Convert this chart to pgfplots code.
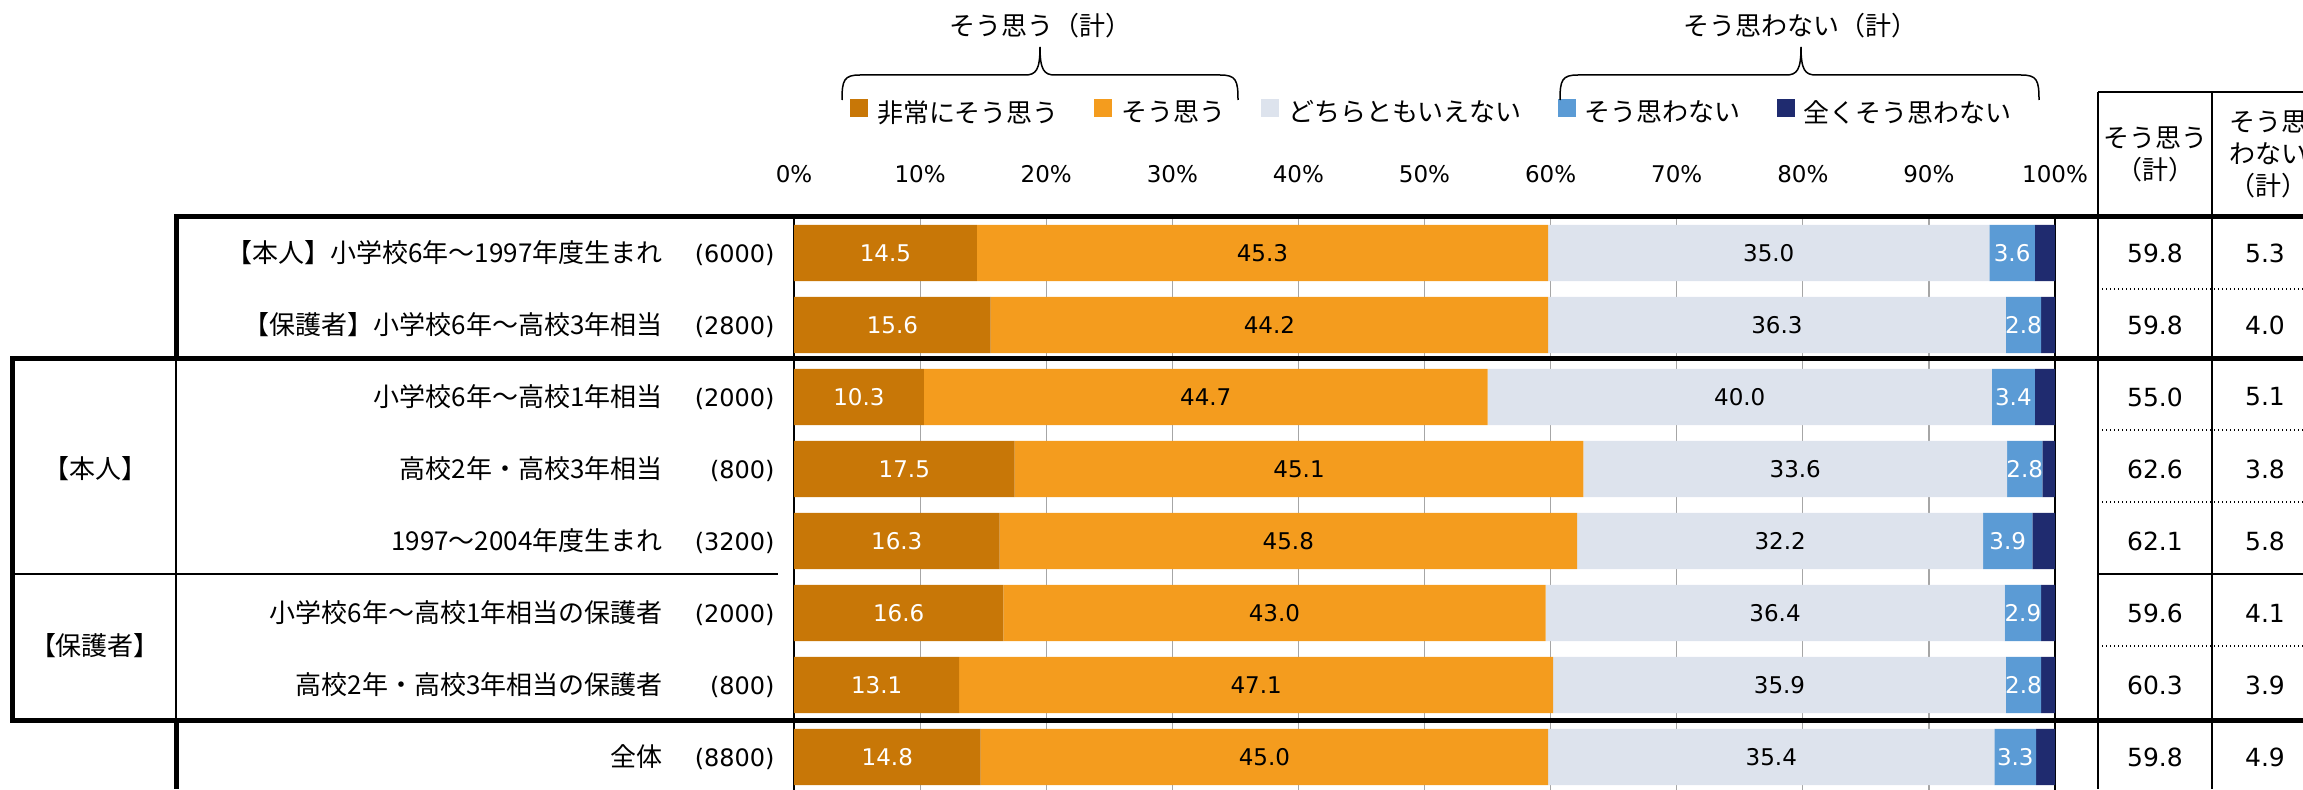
\documentclass[border=0pt]{standalone}
\usepackage{pgfplots}
\pgfplotsset{compat=1.18}
\usepackage{pgfplotstable}
\usepackage{fontspec}
\setmainfont{Noto Sans CJK JP}
\newfontfamily\dv{DejaVu Sans}
\definecolor{c1}{HTML}{C87707}
\definecolor{c2}{HTML}{F49C1E}
\definecolor{c3}{HTML}{DDE3ED}
\definecolor{c4}{HTML}{5B9BD5}
\definecolor{c5}{HTML}{1F2B6F}
\definecolor{gridgray}{HTML}{A6A6A6}
\newcommand\jf{\fontsize{13pt}{16pt}\selectfont}
\newcommand\nf{\dv\fontsize{11.5pt}{14pt}\selectfont}
\newcommand\tf{\dv\fontsize{12.5pt}{15pt}\selectfont}
\newcommand\rl[2]{\makebox[0pt][r]{#1}\makebox[56pt][r]{\dv\fontsize{12pt}{14pt}\selectfont #2}}

\pgfplotstableread{
y a b c d e p n
8 14.5 45.3 35.0 3.6 1.7 59.8 5.3
7 15.6 44.2 36.3 2.8 1.2 59.8 4.0
6 10.3 44.7 40.0 3.4 1.7 55.0 5.1
5 17.5 45.1 33.6 2.8 1.0 62.6 3.8
4 16.3 45.8 32.2 3.9 1.9 62.1 5.8
3 16.6 43.0 36.4 2.9 1.2 59.6 4.1
2 13.1 47.1 35.9 2.8 1.1 60.3 3.9
1 14.8 45.0 35.4 3.3 1.6 59.8 4.9
}\data

\pgfplotsset{lbl/.style={only marks, mark=text, text mark={}}}

\begin{document}
\begin{tikzpicture}[x=0.5pt,y=0.5pt,font=\jf]
\useasboundingbox (0,0) rectangle (2303,789);
\clip (0,0) rectangle (2303,789);
\begin{axis}[
  at={(397pt,286pt)}, anchor=north west,
  scale only axis, width=630.5pt, height=288pt,
  xmin=0, xmax=100, ymin=0.5, ymax=8.5,
  xbar stacked, bar width=0.78,
  /pgf/number format/assume math mode=true,
  xtick={0,10,...,100},
  xticklabel pos=right,
  xticklabel={\pgfmathprintnumber{\tick}\%},
  xticklabel style={anchor=base, yshift=17pt, inner sep=0pt, font=\nf},
  xtick style={draw=none}, ytick style={draw=none},
  ytick={1,...,8},
  yticklabels={
    {\rl{全体}{(8800)}},
    {\rl{高校2年・高校3年相当の保護者}{(800)}},
    {\rl{小学校6年〜高校1年相当の保護者}{(2000)}},
    {\rl{1997〜2004年度生まれ}{(3200)}},
    {\rl{高校2年・高校3年相当}{(800)}},
    {\rl{小学校6年〜高校1年相当}{(2000)}},
    {\rl{【保護者】小学校6年〜高校3年相当}{(2800)}},
    {\rl{【本人】小学校6年〜1997年度生まれ}{(6000)}}},
  yticklabel style={anchor=east, inner sep=0pt, xshift=-9.5pt, font=\jf},
  xmajorgrids, grid style={color=gridgray, line width=0.6pt},
  axis line style={line width=0.75pt},
  legend style={at={(0.0444,1.1823)}, anchor=west, draw=none, fill=none,
    inner sep=0pt, outer sep=0pt, legend columns=5, font=\jf,
    nodes={inner sep=0pt},
    /tikz/every even column/.append style={column sep=18pt},
    /tikz/every odd column/.append style={column sep=4.5pt}},
  legend image code/.code={\fill[#1] (0pt,-2pt) rectangle (9pt,7pt);},
]
\addplot[fill=c1, draw=none] table[x=a, y=y]{\data};
\addplot[fill=c2, draw=none] table[x=b, y=y]{\data};
\addplot[fill=c3, draw=none] table[x=c, y=y]{\data};
\addplot[fill=c4, draw=none] table[x=d, y=y]{\data};
\addplot[fill=c5, draw=none] table[x=e, y=y]{\data};
\legend{非常にそう思う, そう思う, どちらともいえない, そう思わない, 全くそう思わない}
\end{axis}
\begin{axis}[
  at={(397pt,286pt)}, anchor=north west,
  scale only axis, width=630.5pt, height=288pt,
  xmin=0, xmax=100, ymin=0.5, ymax=8.5,
  hide axis, clip=false,
  /pgf/number format/assume math mode=true,
  point meta=explicit,
  nodes near coords={\pgfmathprintnumber[fixed,fixed zerofill,precision=1]{\pgfplotspointmeta}},
  every node near coord/.append style={anchor=center, inner sep=0pt},
]
\addplot[lbl, nodes near coords style={text=white, font=\nf}]
  table[x expr=\thisrow{a}/2, y=y, meta=a]{\data};
\addplot[lbl, nodes near coords style={text=black, font=\nf}]
  table[x expr=\thisrow{a}+\thisrow{b}/2, y=y, meta=b]{\data};
\addplot[lbl, nodes near coords style={text=black, font=\nf}]
  table[x expr=\thisrow{a}+\thisrow{b}+\thisrow{c}/2, y=y, meta=c]{\data};
\addplot[lbl, nodes near coords style={text=white, font=\nf}]
  table[x expr=\thisrow{a}+\thisrow{b}+\thisrow{c}+\thisrow{d}/2, y=y, meta=d]{\data};
\addplot[lbl, nodes near coords style={text=black, font=\tf}]
  table[x expr=107.93, y=y, meta=p]{\data};
\addplot[lbl, nodes near coords style={text=black, font=\tf}]
  table[x expr=116.65, y=y, meta=n]{\data};
\end{axis}
\begin{scope}[shift={(0,789)}, yscale=-1]
  % thin lines
  \draw[line width=0.75pt] (176,358) -- (176,720);
  \draw[line width=0.75pt] (12,574) -- (778,574);
  \draw[line width=0.75pt] (2098,92) -- (2303,92);
  \draw[line width=0.75pt] (2098,92) -- (2098,789);
  \draw[line width=0.75pt] (2212,92) -- (2212,789);
  \draw[line width=0.75pt] (2098,574) -- (2303,574);
  \foreach \yy in {289,430,502,646}
    \draw[line width=0.6pt, dash pattern=on 0.6pt off 1.4pt] (2098,\yy) -- (2303,\yy);
  % thick frame
  \draw[line width=2.5pt] (2303,217) -- (176,217) -- (176,358);
  \draw[line width=2.5pt] (2303,358) -- (12,358) -- (12,720) -- (2303,720);
  \draw[line width=2.5pt] (176,720) -- (176,789);
  % group labels
  \node at (95,469) {【本人】};
  \node at (95,646) {【保護者】};
  % table header
  \node[align=center] at (2155,154) {そう思う\\（計）};
  \node[align=center] at (2268,154) {そう思\\わない\\（計）};
  % braces
  \draw[line width=0.75pt] (842,100) .. controls (842,80) and (844,75) .. (860,75) -- (1025,75)
     .. controls (1036,75) and (1040,70) .. (1040,47);
  \draw[line width=0.75pt] (1040,47) .. controls (1040,70) and (1044,75) .. (1055,75) -- (1220,75)
     .. controls (1236,75) and (1238,80) .. (1238,100);
  \draw[line width=0.75pt] (1560,100) .. controls (1560,80) and (1562,75) .. (1578,75) -- (1786,75)
     .. controls (1797,75) and (1801,70) .. (1801,47);
  \draw[line width=0.75pt] (1801,47) .. controls (1801,70) and (1805,75) .. (1816,75) -- (2021,75)
     .. controls (2037,75) and (2039,80) .. (2039,100);
  \node at (1040,26) {そう思う（計）};
  \node at (1800,26) {そう思わない（計）};
\end{scope}
\end{tikzpicture}
\end{document}
